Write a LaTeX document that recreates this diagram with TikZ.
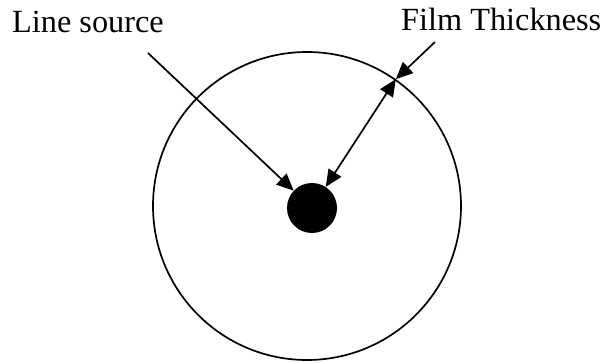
\documentclass[tikz,border=0pt]{standalone}
\usepackage{fontspec}
\setmainfont{Liberation Serif}
\usetikzlibrary{arrows.meta}
\begin{document}
\begin{tikzpicture}[x=1pt,y=1pt,
  lbl/.style={inner sep=0pt,font=\fontsize{32.3}{36}\selectfont},
  ln/.style={line width=1.7pt},
  tip/.style={-{Triangle[length=17pt,width=15pt]}},
  dtip/.style={{Triangle[length=17pt,width=15pt]}-{Triangle[length=17pt,width=15pt]}}]
\useasboundingbox (0,0) rectangle (603,362);
\node[circle,draw,ln,minimum size=308pt,inner sep=0pt] (big) at (307,156) {};
\node[circle,fill=black,minimum size=50pt,inner sep=0pt] (small) at (312,154) {};
\node[lbl,anchor=base west] (lsl) at (12,329) {Line source};
\node[lbl,anchor=base west] (ftl) at (401,331) {Film Thickness};
\coordinate (lsstart) at (148,309);
\coordinate (ftstart) at (435,320);
\coordinate (P) at (big.55.7);
\draw[ln,tip] (lsstart) -- (small);
\draw[ln,dtip] (small) -- (P);
\draw[ln,tip] (ftstart) -- (P);
\end{tikzpicture}
\end{document}
